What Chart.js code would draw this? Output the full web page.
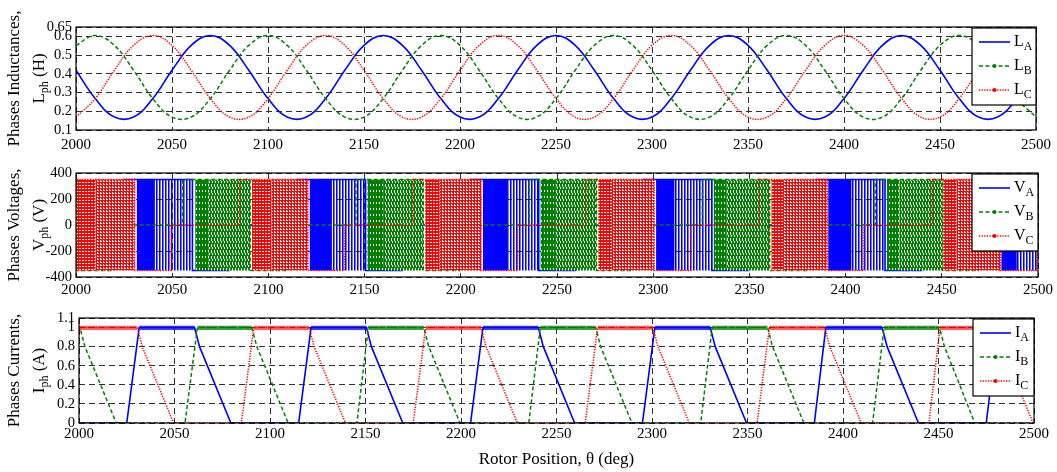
<!DOCTYPE html>
<html>
<head>
<meta charset="utf-8">
<script src="https://cdn.jsdelivr.net/npm/chart.js@4.4.1/dist/chart.umd.min.js"></script>
<style>
  body { margin: 0; background: #fff; width: 1057px; height: 472px; position: relative; overflow: hidden; }
  canvas { position: absolute; left: 0; }
</style>
</head>
<body>
<canvas id="cL" width="1057" height="160" style="top:0px"></canvas>
<canvas id="cV" width="1057" height="150" style="top:160px"></canvas>
<canvas id="cI" width="1057" height="172" style="top:300px"></canvas>
<script>
// ---- data ----
const xMin = 2000, xMax = 2500;
const xTicks = [2000, 2050, 2100, 2150, 2200, 2250, 2300, 2350, 2400, 2450, 2500];
const lTicks = [0.1, 0.2, 0.3, 0.4, 0.5, 0.6, 0.65];
const vTicks = [-400, -200, 0, 200, 400];
const iTicks = [0, 0.2, 0.4, 0.6, 0.8, 1, 1.1];

// inductance samples every 10 deg from 2000 to 2500
const theta = [2000, 2010, 2020, 2030, 2040, 2050, 2060, 2070, 2080, 2090,
  2100, 2110, 2120, 2130, 2140, 2150, 2160, 2170, 2180, 2190,
  2200, 2210, 2220, 2230, 2240, 2250, 2260, 2270, 2280, 2290,
  2300, 2310, 2320, 2330, 2340, 2350, 2360, 2370, 2380, 2390,
  2400, 2410, 2420, 2430, 2440, 2450, 2460, 2470, 2480, 2490, 2500];
const LA = [0.419, 0.268, 0.169, 0.169, 0.268, 0.419, 0.552, 0.605, 0.552,
  0.419, 0.268, 0.169, 0.169, 0.268, 0.419, 0.552, 0.605, 0.552,
  0.419, 0.268, 0.169, 0.169, 0.268, 0.419, 0.552, 0.605, 0.552,
  0.419, 0.268, 0.169, 0.169, 0.268, 0.419, 0.552, 0.605, 0.552,
  0.419, 0.268, 0.169, 0.169, 0.268, 0.419, 0.552, 0.605, 0.552,
  0.419, 0.268, 0.169, 0.169, 0.268, 0.419];
const LB = [0.552, 0.605, 0.552, 0.419, 0.268, 0.169, 0.169, 0.268, 0.419,
  0.552, 0.605, 0.552, 0.419, 0.268, 0.169, 0.169, 0.268, 0.419,
  0.552, 0.605, 0.552, 0.419, 0.268, 0.169, 0.169, 0.268, 0.419,
  0.552, 0.605, 0.552, 0.419, 0.268, 0.169, 0.169, 0.268, 0.419,
  0.552, 0.605, 0.552, 0.419, 0.268, 0.169, 0.169, 0.268, 0.419,
  0.552, 0.605, 0.552, 0.419, 0.268, 0.169];
const LC = [0.169, 0.268, 0.419, 0.552, 0.605, 0.552, 0.419, 0.268, 0.169,
  0.169, 0.268, 0.419, 0.552, 0.605, 0.552, 0.419, 0.268, 0.169,
  0.169, 0.268, 0.419, 0.552, 0.605, 0.552, 0.419, 0.268, 0.169,
  0.169, 0.268, 0.419, 0.552, 0.605, 0.552, 0.419, 0.268, 0.169,
  0.169, 0.268, 0.419, 0.552, 0.605, 0.552, 0.419, 0.268, 0.169,
  0.169, 0.268, 0.419, 0.552, 0.605, 0.552];

// conduction cycles per phase (deg):
// [turn on, dense chopping start, dense chopping end, turn off, current back to zero]
const cycA = [[2025, 2031.5, 2041, 2060.5, 2079.5], [2115, 2121.5, 2133, 2150.5, 2169.5],
  [2205, 2211.5, 2224.5, 2240.5, 2259.5], [2295, 2301.5, 2311, 2330.5, 2349.5],
  [2385, 2391, 2403, 2420.5, 2439.5], [2475, 2481, 2489, 2510.5, 2529.5]];
const cycB = [[1965.5, 1971.5, 1978, 2000.5, 2019.5], [2055.5, 2062, 2069, 2090.5, 2109.5],
  [2145.5, 2151.5, 2160, 2180.5, 2199.5], [2235.5, 2241.5, 2249, 2270.5, 2289.5],
  [2325.5, 2331.5, 2338, 2360.5, 2379.5], [2415.5, 2421.5, 2428, 2450.5, 2469]];
const cycC = [[1995, 2000.5, 2010, 2030.5, 2049.5], [2085, 2091.5, 2101.5, 2120.5, 2139.5],
  [2175, 2181.5, 2189, 2210.5, 2229.5], [2265, 2271.5, 2278.5, 2300.5, 2319.5],
  [2355, 2361.5, 2367.5, 2390.5, 2409.5], [2445, 2450.8, 2457.7, 2480.5, 2499.5]];
const vDc = 350;
const iTop = 1.0;
const iRipple = [0.975, 1.02];
const iKnee = [2.6, 0.8];   // deg after turn off, current level

// ---- styles ----
const serif = '"Liberation Serif", "Times New Roman", serif';
const BLUE = '#0000ff', GREEN = '#008000', RED = '#ff0000';
const gridColor = '#303030';
const sA = { color: BLUE, dash: [], width: 1.6, dot: false };
const sB = { color: GREEN, dash: [4, 2.5], width: 1.5, dot: true };
const sC = { color: RED, dash: [1.3, 1.3], width: 1.5, dot: true };

function pattern(w, h, bg, marks) {
  const c = document.createElement('canvas');
  c.width = w; c.height = h;
  const g = c.getContext('2d');
  if (bg) { g.fillStyle = bg; g.fillRect(0, 0, w, h); }
  marks.forEach(m => { g.fillStyle = m[4]; g.fillRect(m[0], m[1], m[2], m[3]); });
  return g.createPattern(c, 'repeat');
}
const patA = [BLUE, pattern(3, 1, null, [[0, 0, 1, 1, BLUE], [1, 0, 1, 1, 'rgba(0,0,255,0.55)']])];
const patB = [pattern(3, 6, GREEN, [[1, 0, 1, 2, '#fff']]),
  pattern(3, 6, GREEN, [[1, 0, 1, 3, '#fff'], [2, 3, 1, 2, '#fff']])];
const patC = [pattern(3, 3, RED, [[1, 1, 2, 1, '#fff']]),
  pattern(3, 3, RED, [[1, 0, 2, 1, '#fff'], [1, 2, 1, 1, '#fff']])];

// ---- builders ----
const xy = (xs, ys) => xs.map((x, i) => ({ x: x, y: ys[i] }));

function outline(cyc) {
  const p = [];
  if (cyc[0][0] > xMin) p.push({ x: xMin, y: 0 });
  cyc.forEach(c => {
    p.push({ x: c[0], y: 0 }, { x: c[0], y: vDc }, { x: c[3], y: vDc },
      { x: c[3], y: -vDc }, { x: c[4], y: -vDc }, { x: c[4], y: 0 });
  });
  if (cyc[cyc.length - 1][4] < xMax) p.push({ x: xMax, y: 0 });
  return p;
}
function block(cyc, a, b, lo, hi) {
  const p = [];
  cyc.forEach(c => {
    p.push({ x: c[a], y: lo }, { x: c[a], y: hi }, { x: c[b], y: hi }, { x: c[b], y: lo });
  });
  return p;
}
function current(cyc) {
  const p = [];
  if (cyc[0][0] > xMin) p.push({ x: xMin, y: 0 });
  cyc.forEach(c => {
    p.push({ x: c[0], y: 0 }, { x: c[1], y: iTop }, { x: c[3], y: iTop },
      { x: c[3] + iKnee[0], y: iKnee[1] }, { x: c[4], y: 0 });
  });
  if (cyc[cyc.length - 1][4] < xMax) p.push({ x: xMax, y: 0 });
  return p;
}

function lineDs(data, s, order, tension) {
  return { data: data, borderColor: s.color, borderDash: s.dash, borderWidth: s.width,
    pointRadius: 0, fill: false, tension: tension || 0, order: order };
}
function fillDs(data, bg, lo, order) {
  return { data: data, borderWidth: 0, borderColor: 'rgba(0,0,0,0)', backgroundColor: bg,
    pointRadius: 0, fill: { value: lo }, tension: 0, order: order };
}

// ---- axes ----
function xAxis(h, pad) {
  return {
    type: 'linear', min: xMin, max: xMax,
    afterBuildTicks: s => { s.ticks = xTicks.map(v => ({ value: v })); },
    afterFit: s => { s.height = h; },
    ticks: { color: '#000', font: { family: serif, size: 15 }, padding: pad, maxRotation: 0, autoSkip: false,
      callback: v => String(v) },
    grid: { color: gridColor, lineWidth: 1, drawTicks: false },
    border: { display: false, dash: [6, 4] }
  };
}
function yAxis(min, max, ticks) {
  return {
    min: min, max: max,
    afterBuildTicks: s => { s.ticks = ticks.map(v => ({ value: v })); },
    afterFit: s => { s.width = 40; },
    ticks: { color: '#000', font: { family: serif, size: 14.5 }, padding: 4, autoSkip: false,
      callback: v => String(v) },
    grid: { color: gridColor, lineWidth: 1, drawTicks: false },
    border: { display: false, dash: [6, 4] }
  };
}

// ---- text with subscripts, frame, legend ----
function drawParts(ctx, parts, x, y, size, align) {
  const big = size + 'px ' + serif, small = Math.round(size * 0.72) + 'px ' + serif;
  let w = 0;
  parts.forEach(p => { ctx.font = p[1] ? small : big; w += ctx.measureText(p[0]).width; });
  let cx = align === 'center' ? x - w / 2 : x;
  ctx.textAlign = 'left';
  parts.forEach(p => {
    ctx.font = p[1] ? small : big;
    ctx.fillText(p[0], cx, p[1] ? y + 5 : y);
    cx += ctx.measureText(p[0]).width;
  });
}

const frame = {
  id: 'frame',
  afterDraw(chart, args, o) {
    const ctx = chart.ctx, a = chart.chartArea;
    ctx.save();
    ctx.strokeStyle = '#000'; ctx.lineWidth = 1.2; ctx.setLineDash([]);
    ctx.strokeRect(a.left, a.top, a.right - a.left, a.bottom - a.top);

    // legend box inside the axes
    const L = o.legend;
    const bx = a.right - L.w, by = a.top + 1;
    ctx.fillStyle = '#fff'; ctx.fillRect(bx, by, L.w, L.h);
    ctx.strokeRect(bx, by, L.w, L.h);
    ctx.textBaseline = 'middle';
    L.items.forEach((it, i) => {
      const y = by + [14, 38, 62][i];
      ctx.strokeStyle = it.s.color; ctx.lineWidth = it.s.width; ctx.setLineDash(it.s.dash);
      ctx.beginPath(); ctx.moveTo(bx + 7, y); ctx.lineTo(bx + 38, y); ctx.stroke();
      ctx.setLineDash([]);
      if (it.s.dot) {
        ctx.fillStyle = it.s.color; ctx.beginPath(); ctx.arc(bx + 22.5, y, 2, 0, 2 * Math.PI); ctx.fill();
      }
      ctx.fillStyle = '#000';
      drawParts(ctx, [[it.main, false], [it.sub, true]], bx + 42, y, 16, 'left');
    });

    // rotated y title, two lines
    const yc = (a.top + a.bottom) / 2;
    ctx.fillStyle = '#000';
    ctx.translate(15, yc); ctx.rotate(-Math.PI / 2);
    ctx.font = '17px ' + serif; ctx.textAlign = 'center';
    ctx.fillText(o.title1, 0, 0);
    ctx.rotate(Math.PI / 2); ctx.translate(25, 0); ctx.rotate(-Math.PI / 2);
    drawParts(ctx, o.title2, 0, 0, 17, 'center');
    ctx.restore();

    if (o.xTitle) {
      ctx.save();
      ctx.fillStyle = '#000'; ctx.font = '17px ' + serif; ctx.textAlign = 'center'; ctx.textBaseline = 'middle';
      ctx.fillText(o.xTitle, (a.left + a.right) / 2, o.xTitleY);
      ctx.restore();
    }
  }
};

const common = {
  responsive: false, animation: false, events: [],
  plugins: { legend: { display: false }, tooltip: { enabled: false } }
};

// ---- inductances ----
new Chart('cL', {
  type: 'line',
  data: { datasets: [
    lineDs(xy(theta, LA), sA, 2, 0.4),
    lineDs(xy(theta, LB), sB, 1, 0.4),
    lineDs(xy(theta, LC), sC, 0, 0.4)
  ] },
  options: Object.assign({}, common, {
    layout: { padding: { left: 36, right: 19, top: 27, bottom: 0 } },
    scales: { x: xAxis(30, 6), y: yAxis(0.1, 0.65, lTicks) },
    plugins: Object.assign({}, common.plugins, { frame: {
      title1: 'Phases Inductances,', title2: [['L', false], ['ph', true], [' (H)', false]],
      legend: { w: 64, h: 77, items: [{ s: sA, main: 'L', sub: 'A' }, { s: sB, main: 'L', sub: 'B' }, { s: sC, main: 'L', sub: 'C' }] }
    } })
  }),
  plugins: [frame]
});

// ---- voltages ----
new Chart('cV', {
  type: 'line',
  data: { datasets: [
    fillDs(block(cycA, 1, 2, -vDc, vDc), patA[0], -vDc, 6),
    fillDs(block(cycA, 2, 3, -vDc, vDc), patA[1], -vDc, 6),
    lineDs(outline(cycA), sA, 5),
    fillDs(block(cycB, 1, 2, -vDc, vDc), patB[0], -vDc, 4),
    fillDs(block(cycB, 2, 3, -vDc, vDc), patB[1], -vDc, 4),
    lineDs(outline(cycB), sB, 3),
    fillDs(block(cycC, 1, 2, -vDc, vDc), patC[0], -vDc, 2),
    fillDs(block(cycC, 2, 3, -vDc, vDc), patC[1], -vDc, 2),
    lineDs(outline(cycC), sC, 1)
  ] },
  options: Object.assign({}, common, {
    layout: { padding: { left: 36, right: 19, top: 13, bottom: 3 } },
    scales: { x: xAxis(30, 4), y: yAxis(-400, 400, vTicks) },
    plugins: Object.assign({}, common.plugins, { frame: {
      title1: 'Phases Voltages,', title2: [['V', false], ['ph', true], [' (V)', false]],
      legend: { w: 66, h: 77, items: [{ s: sA, main: 'V', sub: 'A' }, { s: sB, main: 'V', sub: 'B' }, { s: sC, main: 'V', sub: 'C' }] }
    } })
  }),
  plugins: [frame]
});

// ---- currents ----
new Chart('cI', {
  type: 'line',
  data: { datasets: [
    fillDs(block(cycA, 1, 3, iRipple[0], iRipple[1]), 'rgba(0,0,255,0.75)', iRipple[0], 5),
    lineDs(current(cycA), sA, 4),
    fillDs(block(cycB, 1, 3, iRipple[0], iRipple[1]), 'rgba(0,128,0,0.75)', iRipple[0], 3),
    lineDs(current(cycB), sB, 2),
    fillDs(block(cycC, 1, 3, iRipple[0], iRipple[1]), 'rgba(255,0,0,0.6)', iRipple[0], 1),
    lineDs(current(cycC), sC, 0)
  ] },
  options: Object.assign({}, common, {
    layout: { padding: { left: 39, right: 23, top: 18, bottom: 0 } },
    scales: { x: xAxis(49, 2), y: yAxis(0, 1.1, iTicks) },
    plugins: Object.assign({}, common.plugins, { frame: {
      title1: 'Phases Currents,', title2: [['I', false], ['ph', true], [' (A)', false]],
      xTitle: 'Rotor Position, \u03b8 (deg)', xTitleY: 160,
      legend: { w: 61, h: 77, items: [{ s: sA, main: 'I', sub: 'A' }, { s: sB, main: 'I', sub: 'B' }, { s: sC, main: 'I', sub: 'C' }] }
    } })
  }),
  plugins: [frame]
});
</script>
</body>
</html>
